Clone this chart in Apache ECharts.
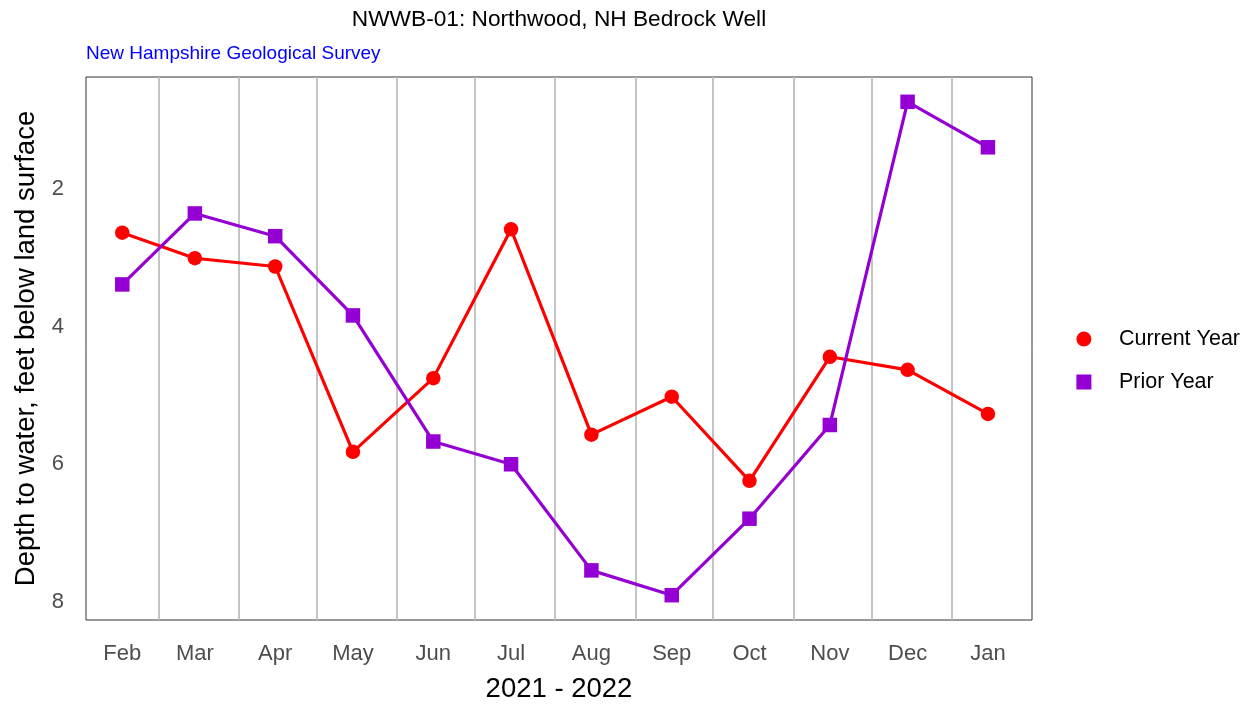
<!DOCTYPE html>
<html>
<head>
<meta charset="utf-8">
<title>NWWB-01: Northwood, NH Bedrock Well</title>
<script src="https://cdn.jsdelivr.net/npm/echarts@6/dist/echarts.min.js"></script>
<style>
  html, body { margin: 0; padding: 0; background: #fff; }
  #chart { width: 1252px; height: 704px; }
</style>
</head>
<body>
<div id="chart"></div>
<script>
// sample dates (mid-month) and month tick labels
const sampleDates = ['2021-02-15', '2021-03-15', '2021-04-15', '2021-05-15', '2021-06-15', '2021-07-15',
  '2021-08-15', '2021-09-15', '2021-10-15', '2021-11-15', '2021-12-15', '2022-01-15'];
const monthLabels = ['Feb', 'Mar', 'Apr', 'May', 'Jun', 'Jul', 'Aug', 'Sep', 'Oct', 'Nov', 'Dec', 'Jan'];
// month boundaries -> vertical grid lines
const monthStarts = ['2021-03-01', '2021-04-01', '2021-05-01', '2021-06-01', '2021-07-01', '2021-08-01',
  '2021-09-01', '2021-10-01', '2021-11-01', '2021-12-01', '2022-01-01'];
const yTicks = [2, 4, 6, 8];

// depth to water, feet below land surface
const currentYear = [2.64, 3.01, 3.13, 5.82, 4.75, 2.59, 5.57, 5.02, 6.24, 4.44, 4.63, 5.27];
const priorYear = [3.39, 2.36, 2.69, 3.84, 5.67, 6.00, 7.54, 7.90, 6.79, 5.43, 0.74, 1.40];

const FONT = '"Liberation Sans", Arial, sans-serif';
// dates as plain timestamps on a value axis (time axis + customValues breaks in v6)
const toTime = (s) => { const [y, m, d] = s.split('-').map(Number); return Date.UTC(y, m - 1, d); };
const labelTimes = sampleDates.map(toTime);
const SQUARE = 'path://M0 0L10 0L10 10L0 10Z';

const chart = echarts.init(document.getElementById('chart'));
chart.setOption({
  animation: false,
  backgroundColor: '#fff',
  textStyle: { fontFamily: FONT },
  title: [
    { text: 'NWWB-01: Northwood, NH Bedrock Well', left: 554, top: 3, textAlign: 'center',
      textStyle: { fontFamily: FONT, fontSize: 22.7, fontWeight: 'normal', color: '#000' } },
    { text: 'New Hampshire Geological Survey', left: 81, top: 39,
      textStyle: { fontFamily: FONT, fontSize: 19, fontWeight: 'normal', color: '#0000ff' } },
  ],
  legend: {
    orient: 'vertical', right: 7, top: 323, itemWidth: 60, itemHeight: 15, itemGap: 21,
    symbolKeepAspect: true,
    textStyle: { fontFamily: FONT, fontSize: 21.5, color: '#000' },
    data: [{ name: 'Current Year', icon: 'circle' }, { name: 'Prior Year', icon: SQUARE }],
  },
  grid: { left: 86, right: 220, top: 77, bottom: 84, outerBoundsMode: 'none',
    show: true, borderColor: '#333', borderWidth: 1, backgroundColor: '#fff' },
  xAxis: {
    type: 'value', min: toTime('2021-02-01'), max: toTime('2022-02-01'),
    name: '2021 - 2022', nameLocation: 'middle', nameGap: 55,
    nameTextStyle: { fontFamily: FONT, fontSize: 27.5, color: '#000' },
    axisLine: { show: false },
    axisTick: { show: false, customValues: monthStarts.map(toTime) },
    splitLine: { show: true, lineStyle: { color: '#bebebe', width: 1.8 } },
    axisLabel: {
      customValues: labelTimes, margin: 23, fontFamily: FONT, fontSize: 22, color: '#4d4d4d',
      formatter: (v) => monthLabels[labelTimes.indexOf(v)] || '',
    },
  },
  yAxis: {
    type: 'value', inverse: true, min: 0.38, max: 8.26,
    name: 'Depth to water, feet below land surface', nameLocation: 'middle', nameGap: 46,
    nameTextStyle: { fontFamily: FONT, fontSize: 27.5, color: '#000' },
    axisLine: { show: false }, axisTick: { show: false }, splitLine: { show: false },
    axisLabel: { customValues: yTicks, margin: 22, fontFamily: FONT, fontSize: 22, color: '#4d4d4d' },
  },
  series: [
    { name: 'Current Year', type: 'line', symbol: 'circle', symbolSize: 14.5,
      itemStyle: { color: '#ff0000' }, lineStyle: { color: '#ff0000', width: 3.2 },
      data: labelTimes.map((t, i) => [t, currentYear[i]]) },
    { name: 'Prior Year', type: 'line', symbol: 'rect', symbolSize: 14.5,
      itemStyle: { color: '#9400d3' }, lineStyle: { color: '#9400d3', width: 3.2 },
      data: labelTimes.map((t, i) => [t, priorYear[i]]) },
  ],
});
window.addEventListener('resize', () => chart.resize());
</script>
</body>
</html>
